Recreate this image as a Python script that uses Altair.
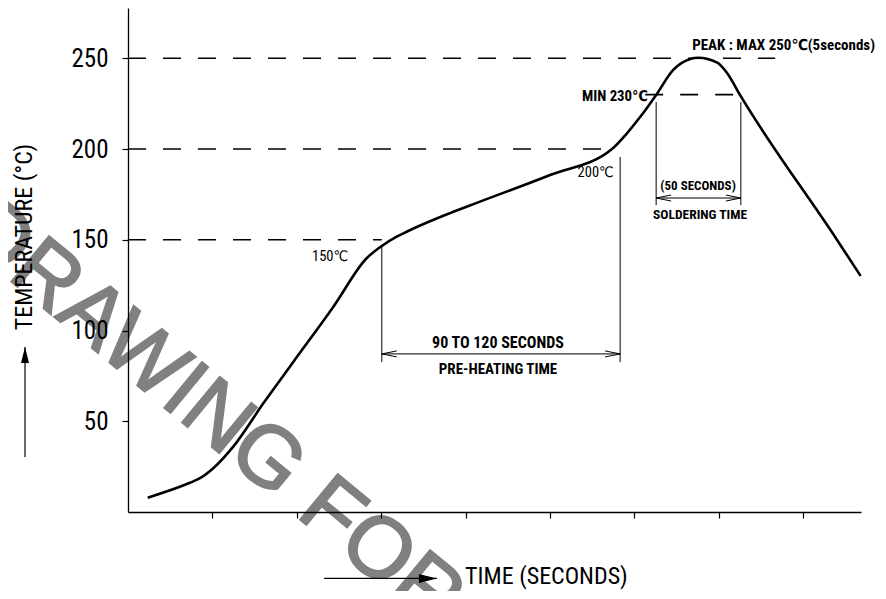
import altair as alt
import pandas as pd

# ---- reflow temperature profile (time in s, temp in degC)
time_s = [7.0, 22.0, 25.6, 30.3, 37.4, 48.1, 58.8, 73.0, 84.8, 90.2, 95.5, 99.0,
          114.5, 125.1, 150.0, 172.0, 177.4, 182.0, 187.7, 193.7, 199.8, 202.6,
          209.4, 212.9, 217.5, 252.0, 260.4]
temp_c = [7.9, 16.1, 18.6, 24.1, 36.0, 59.9, 82.8, 113.1, 139.8, 146.6, 151.7, 154.4,
          164.7, 171.0, 185.7, 200.0, 208.8, 217.6, 229.8, 243.5, 249.6, 250.3,
          247.6, 241.9, 229.8, 149.9, 130.0]

y_ticks = [50, 100, 150, 200, 250]
x_ticks = [30, 60, 90, 120, 150, 180, 210, 240]

# dashed reference temperatures
ref_temp = [250, 200, 150, 230]
ref_from = [0, 0, 0, 183.8]
ref_to = [230.0, 172.4, 90.2, 220.4]

# thin vertical extension lines
guide_x = [90.2, 174.9, 187.7, 217.8]
guide_top = [146.6, 195.6, 225.9, 225.9]
guide_bottom = [82.6, 82.6, 169.1, 169.1]

# dimension lines (pre-heating, soldering)
dim_y = [87.1, 173.0]
dim_from = [90.2, 187.7]
dim_to = [174.9, 217.8]

# annotations
bold_text = ["MIN 230\u2103", "PEAK : MAX 250\u2103(5seconds)", "90 TO 120 SECONDS",
             "PRE-HEATING TIME", "(50 SECONDS)", "SOLDERING TIME"]
bold_x = [173.1, 233.0, 131.5, 131.5, 202.6, 203.3]
bold_y = [228.7, 257.3, 93.1, 78.8, 179.6, 163.6]
bold_size = [14.8, 15, 16, 15, 13, 13.5]

plain_text = ["150\u2103", "200\u2103"]
plain_x = [71.8, 166.2]
plain_y = [140.5, 186.8]

y_title = ["TEMPERATURE (\u00b0C)"]
y_title_x = [-36.6]
y_title_y = [151.5]
x_title = ["TIME (SECONDS)"]
x_title_x = [119.8]
x_title_y = [-35.8]

# axis-title arrows
y_arrow_x = [-36.6]
y_arrow_from = [30.3]
y_arrow_to = [90.9]
x_arrow_y = [-36.6]
x_arrow_from = [69.7]
x_arrow_to = [109.8]

watermark = ["DRAWING FOR REFERENCE"]
wm_x = [-60.4]
wm_y = [151.1]

NARROW = "'Noto Sans ExtraCondensed', 'Noto Sans Condensed', 'Roboto Condensed', 'DejaVu Sans Condensed', sans-serif"

xs = alt.Scale(domain=[0, 260.5], nice=False, zero=False)
ys = alt.Scale(domain=[0, 277.7], nice=False, zero=False)

AX = alt.Axis(values=x_ticks, labels=False, title=None, grid=False, tickSize=6,
              tickColor="black", domainColor="black", domainWidth=1.3, tickWidth=1.2,
              zindex=1)
AY = alt.Axis(values=y_ticks, title=None, grid=False, tickSize=6, tickColor="black",
              domainColor="black", domainWidth=1.3, tickWidth=1.2, labelFont=NARROW,
              labelFontSize=25, labelColor="black", labelPadding=14, zindex=1)


def X(f):
    return alt.X(f, type="quantitative", scale=xs, axis=AX)


def Y(f):
    return alt.Y(f, type="quantitative", scale=ys, axis=AY)


wm = alt.Chart(pd.DataFrame({"t": watermark, "x": wm_x, "y": wm_y})).mark_text(
    angle=39.5, fontSize=86, font="Liberation Sans", color="#808080",
    stroke="#808080", strokeWidth=2, align="left", baseline="alphabetic"
).encode(x=X("x"), y=Y("y"), text="t:N")

curve = alt.Chart(pd.DataFrame({"x": time_s, "y": temp_c})).mark_line(
    color="black", strokeWidth=2.6, interpolate="monotone"
).encode(x=X("x"), y=Y("y"))

refs = alt.Chart(pd.DataFrame({"y": ref_temp, "x": ref_from, "b": ref_to})).mark_rule(
    color="black", strokeWidth=1.7, strokeDash=[18, 17]
).encode(x=X("x"), x2="b:Q", y=Y("y"))

guides = alt.Chart(pd.DataFrame({"x": guide_x, "y": guide_top, "b": guide_bottom})).mark_rule(
    color="black", strokeWidth=1
).encode(x=X("x"), y=Y("y"), y2="b:Q")

dims = alt.Chart(pd.DataFrame({"y": dim_y, "x": dim_from, "b": dim_to})).mark_rule(
    color="black", strokeWidth=1
).encode(x=X("x"), x2="b:Q", y=Y("y"))

arr_left = alt.Chart(pd.DataFrame({"y": dim_y, "x": dim_from})).mark_point(
    shape="M0,0L2,-0.4M0,0L2,0.4", size=225, filled=False, color="black",
    strokeWidth=1, opacity=1
).encode(x=X("x"), y=Y("y"))

arr_right = alt.Chart(pd.DataFrame({"y": dim_y, "x": dim_to})).mark_point(
    shape="M0,0L-2,-0.4M0,0L-2,0.4", size=225, filled=False, color="black",
    strokeWidth=1, opacity=1
).encode(x=X("x"), y=Y("y"))

bold = alt.Chart(pd.DataFrame({"t": bold_text, "x": bold_x, "y": bold_y, "s": bold_size})).mark_text(
    font=NARROW, fontWeight="bold", color="black", align="center", baseline="middle"
).encode(x=X("x"), y=Y("y"), text="t:N", size=alt.Size("s:Q", scale=None, legend=None))

plain = alt.Chart(pd.DataFrame({"t": plain_text, "x": plain_x, "y": plain_y})).mark_text(
    font=NARROW, fontSize=14.5, color="black", align="center", baseline="middle"
).encode(x=X("x"), y=Y("y"), text="t:N")

ytitle = alt.Chart(pd.DataFrame({"t": y_title, "x": y_title_x, "y": y_title_y})).mark_text(
    font=NARROW, fontSize=24, color="black", angle=270, align="center", baseline="middle"
).encode(x=X("x"), y=Y("y"), text="t:N")

xtitle = alt.Chart(pd.DataFrame({"t": x_title, "x": x_title_x, "y": x_title_y})).mark_text(
    font=NARROW, fontSize=24, color="black", align="left", baseline="middle"
).encode(x=X("x"), y=Y("y"), text="t:N")

yarrow = alt.Chart(pd.DataFrame({"x": y_arrow_x, "y": y_arrow_from, "b": y_arrow_to})).mark_rule(
    color="black", strokeWidth=1.2
).encode(x=X("x"), y=Y("y"), y2="b:Q")
yhead = alt.Chart(pd.DataFrame({"x": y_arrow_x, "y": y_arrow_to})).mark_point(
    shape="M0,0L-0.5,2L0.5,2Z", size=256, filled=True, color="black", opacity=1
).encode(x=X("x"), y=Y("y"))

xarrow = alt.Chart(pd.DataFrame({"y": x_arrow_y, "x": x_arrow_from, "b": x_arrow_to})).mark_rule(
    color="black", strokeWidth=1.2
).encode(x=X("x"), x2="b:Q", y=Y("y"))
xhead = alt.Chart(pd.DataFrame({"y": x_arrow_y, "x": x_arrow_to})).mark_point(
    shape="M0,0L-2,-0.5L-2,0.5Z", size=324, filled=True, color="black", opacity=1
).encode(x=X("x"), y=Y("y"))

chart = alt.layer(
    wm, refs, guides, dims, arr_left, arr_right, curve, bold, plain,
    ytitle, xtitle, yarrow, yhead, xarrow, xhead
).properties(
    width=733, height=504,
    autosize=alt.AutoSizeParams(type="none"),
    padding={"left": 120, "top": 0, "right": 17, "bottom": 79},
    background="white",
).configure_view(stroke=None)

chart.save("out.html", embed_options={"renderer": "svg", "actions": False})
